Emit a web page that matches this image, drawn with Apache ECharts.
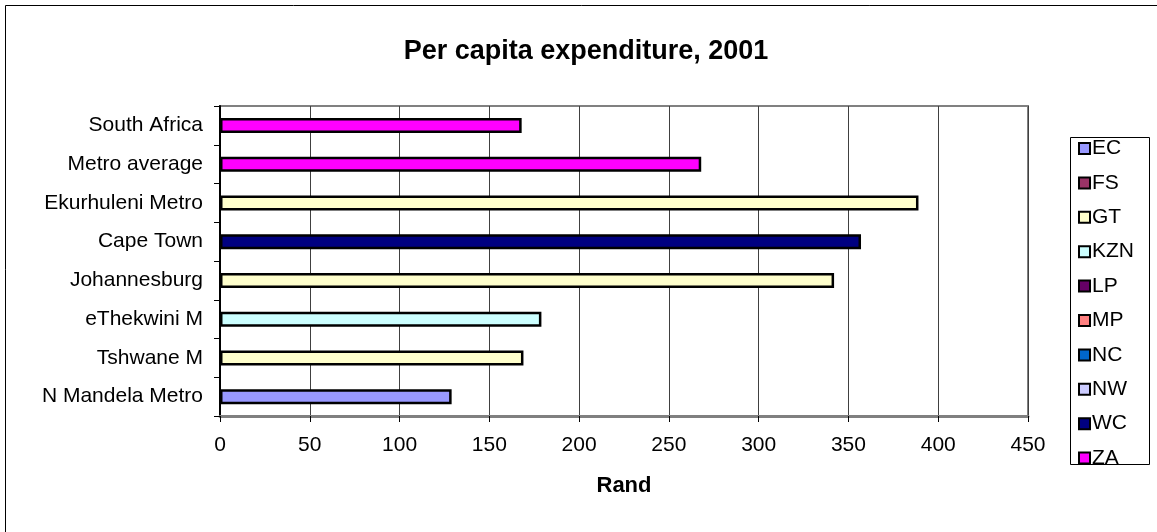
<!DOCTYPE html>
<html>
<head>
<meta charset="utf-8">
<script src="https://cdn.jsdelivr.net/npm/echarts@6/dist/echarts.min.js"></script>
<style>html,body{margin:0;padding:0;background:#fff}#c{width:1157px;height:532px}</style>
</head>
<body>
<div id="c"></div>
<script>
const categories = ['N Mandela Metro','Tshwane M','eThekwini M','Johannesburg','Cape Town','Ekurhuleni Metro','Metro average','South Africa'];
const values = [129, 169, 179, 342, 357, 389, 268, 168];
const provinceOf = ['EC','GT','KZN','GT','WC','GT','ZA','ZA'];
const provinces = ['EC','FS','GT','KZN','LP','MP','NC','NW','WC','ZA'];
const provinceColors = ['#9999FF','#993366','#FFFFCC','#CCFFFF','#660066','#FF8080','#0066CC','#CCCCFF','#000080','#FF00FF'];
const xTicks = [0,50,100,150,200,250,300,350,400,450];

const FONT = 'Liberation Sans, Arial, sans-serif';
const series = provinces.map((p, i) => ({
  name: p,
  type: 'bar',
  stack: 'all',
  barWidth: 15,
  itemStyle: { color: provinceColors[i], borderColor: '#000', borderWidth: 2.5 },
  data: categories.map((c, k) => provinceOf[k] === p ? values[k] : '-')
}));

const chart = echarts.init(document.getElementById('c'));
chart.setOption({
  animation: false,
  backgroundColor: '#fff',
  graphic: [
    { type: 'rect', shape: { x: 5.5, y: 5.5, width: 1160, height: 540 }, style: { fill: 'none', stroke: '#000', lineWidth: 1 }, silent: true },
    { type: 'rect', shape: { x: 1070.5, y: 137.5, width: 79, height: 327 }, style: { fill: 'none', stroke: '#000', lineWidth: 1 }, silent: true },
    { type: 'text', x: 586, y: 52, style: { text: 'Per capita expenditure, 2001', font: 'bold 27px ' + FONT, fill: '#000', textAlign: 'center', textVerticalAlign: 'middle' } }
  ],
  grid: { left: 220, right: 129, top: 106, bottom: 116, show: true, borderColor: '#808080', borderWidth: 2, backgroundColor: '#fff' },
  legend: {
    orient: 'vertical',
    left: 1071, top: 138,
    padding: [0, 4, 0, 7],
    itemWidth: 11, itemHeight: 11,
    itemGap: 13.4,
    textStyle: { fontFamily: FONT, fontSize: 21, color: '#000', lineHeight: 21, padding: [0,0,0,-3] },
    icon: 'rect',
    data: provinces
  },
  xAxis: {
    type: 'value', min: 0, max: 450, interval: 50,
    name: 'Rand', nameLocation: 'middle', nameGap: 59,
    nameTextStyle: { fontFamily: FONT, fontSize: 22, fontWeight: 'bold', color: '#000' },
    axisLine: { show: true, lineStyle: { color: '#808080', width: 3 } },
    axisTick: { show: true, length: 6, lineStyle: { color: '#000' } },
    axisLabel: { margin: 19, fontFamily: FONT, fontSize: 21, color: '#000', formatter: v => xTicks.includes(v) ? String(v) : '' },
    splitLine: { show: true, lineStyle: { color: '#404040', width: 1 } }
  },
  yAxis: {
    type: 'category', data: categories,
    axisLine: { show: true, lineStyle: { color: '#000', width: 2 } },
    axisTick: { show: true, length: 6, lineStyle: { color: '#000' } },
    axisLabel: { margin: 17, fontFamily: FONT, fontSize: 21, color: '#000' },
    splitLine: { show: false }
  },
  series: series
});
</script>
</body>
</html>
